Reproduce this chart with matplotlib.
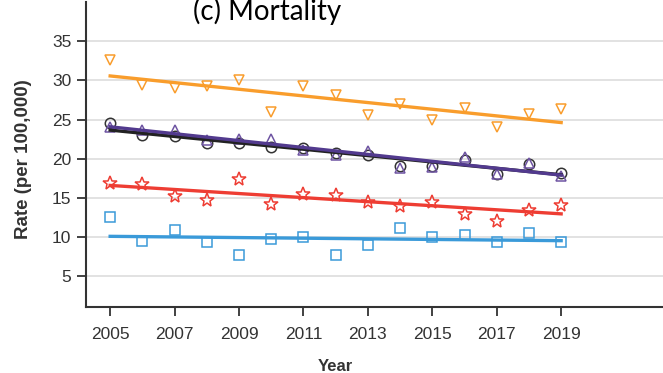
import numpy as np
import matplotlib.pyplot as plt

plt.rcParams['font.family'] = ['Liberation Sans', 'DejaVu Sans']

years = np.arange(2005, 2020)

# rates per 100,000
orange_vals = [32.6, 29.4, 29.0, 29.3, 30.0, 26.0, 29.3, 28.1, 25.6, 27.0, 24.9, 26.5, 24.1, 25.7, 26.3]
black_vals = [24.5, 23.0, 22.9, 22.0, 22.0, 21.5, 21.4, 20.7, 20.5, 19.1, 19.1, 19.8, 18.0, 19.3, 18.2]
purple_vals = [24.0, 23.7, 23.7, 22.4, 22.5, 22.5, 21.1, 20.5, 21.0, 18.8, 19.0, 20.2, 18.1, 19.5, 17.8]
red_vals = [16.9, 16.8, 15.2, 14.7, 17.4, 14.2, 15.5, 15.4, 14.5, 13.9, 14.5, 13.0, 12.1, 13.4, 14.1]
blue_vals = [12.5, 9.5, 10.9, 9.4, 7.7, 9.8, 10.0, 7.7, 9.0, 11.1, 10.0, 10.3, 9.4, 10.5, 9.4]

series = [
    (orange_vals, 'v', '#F99D2C', '#F99D2C', 7.5),
    (black_vals, 'o', '#333333', '#222222', 7.5),
    (purple_vals, '^', '#6F55A3', '#523A8E', 7.5),
    (red_vals, '*', '#EE3D33', '#EE3D33', 10.5),
    (blue_vals, 's', '#3A9AD9', '#3A9AD9', 7),
]

fig = plt.figure(figsize=(6.63, 3.73), dpi=100)
ax = fig.add_axes([86 / 663, 66 / 373, 604 / 663, 305 / 373])

for vals, mk, mcol, lcol, ms in series:
    ax.plot(years, vals, linestyle='none', marker=mk, markersize=ms,
            markerfacecolor='none', markeredgecolor=mcol, markeredgewidth=1.1, zorder=3)
    k, b = np.polyfit(years, vals, 1)
    ax.plot(years, k * years + b, color=lcol, linewidth=2.4, zorder=4)

ax.set_xlim(2004.25, 2023)
ax.set_ylim(1.07, 40)
ax.set_xticks(np.arange(2005, 2020, 2))
ax.set_yticks(np.arange(5, 40, 5))
ax.yaxis.grid(True, color='#dddddd', linewidth=1.2)
ax.set_axisbelow(True)

for s in ['top', 'right']:
    ax.spines[s].set_visible(False)
for s in ['left', 'bottom']:
    ax.spines[s].set_linewidth(1.5)
    ax.spines[s].set_color('#333333')

ax.tick_params(length=6.5, width=1.3, color='#333333', labelcolor='#333333', labelsize=12.5)
ax.tick_params(axis='x', pad=8)
ax.tick_params(axis='y', pad=4)

ax.set_xlabel('Year', fontsize=12, fontweight='bold', color='#333333')
ax.set_ylabel('Rate (per 100,000)', fontsize=13.5, fontweight='bold', color='#333333')
ax.xaxis.set_label_coords((335 - 86) / 604, -0.172)
ax.yaxis.set_label_coords(-0.09, (307 - 159) / 305)

fig.text(267 / 663, 1 - 20 / 373, '(c) Mortality', fontsize=20, family='Lato',
         ha='center', va='baseline')

fig.savefig('out.png', dpi=100)
